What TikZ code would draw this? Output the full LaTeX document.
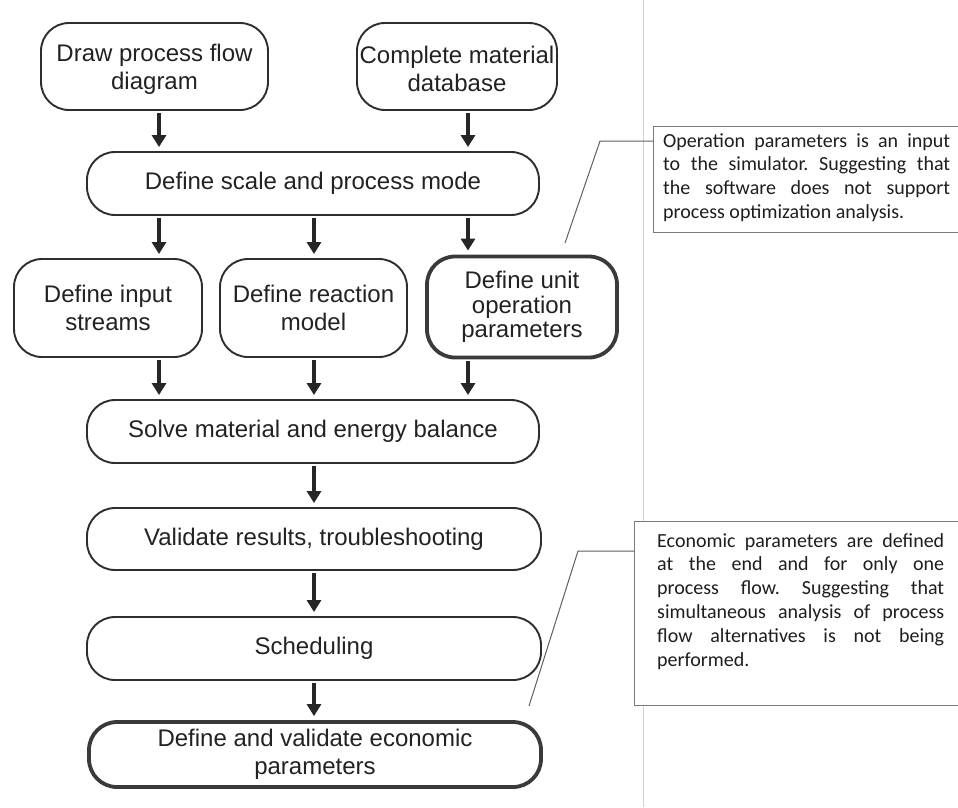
\documentclass[tikz,border=0pt]{standalone}
\usepackage{fontspec}
\setmainfont{Liberation Sans}
\newfontfamily\notefont{Carlito}
\usetikzlibrary{arrows.meta}
\definecolor{boxline}{HTML}{2E2E2E}
\definecolor{keyline}{HTML}{3A3A3A}
\definecolor{boxtext}{HTML}{222222}
\definecolor{arrowc}{HTML}{262626}
\definecolor{noteline}{HTML}{7A7A7A}
\definecolor{notec}{HTML}{1E1E1E}
\definecolor{leadc}{HTML}{5E5E5E}
\definecolor{divc}{HTML}{D2D2D2}
\begin{document}
\frenchspacing
\begin{tikzpicture}[x=1pt,y=-1pt,
  stepbox/.style={draw=boxline, line width=1.9pt, rounded corners=28pt, fill=white,
    align=center, text=boxtext, font=\fontsize{24}{28}\selectfont, inner sep=0pt},
  keybox/.style={stepbox, line width=3.8pt, draw=keyline},
  flow/.style={draw=arrowc, line width=3.4pt, -{Triangle[width=14pt,length=12pt]},
    shorten <=2pt, shorten >=4pt},
  notebox/.style={draw=noteline, line width=1pt, fill=white, inner sep=0pt, anchor=north west},
  notetext/.style={text width=287pt, align=justify, inner sep=0pt, anchor=north west,
    font=\notefont\fontsize{20}{23.8}\selectfont, text=notec},
  leader/.style={draw=leadc, line width=1pt},
  divider/.style={draw=divc, line width=1pt}]

\useasboundingbox (0,0) rectangle (958,807);
\clip (0,0) rectangle (958,807);

% page divider between the chart and the notes
\draw[divider] (643,0) -- (643,807);

% arrow columns
\coordinate (c1) at (159,0);
\coordinate (c2) at (314,0);
\coordinate (c3) at (468,0);

% process steps
\node[stepbox, minimum width=227pt, minimum height=87pt] (b1) at (154.5,66.5) {\rule{0pt}{22pt}Draw process flow\\diagram};
\node[stepbox, minimum width=200pt, minimum height=87pt] (b2) at (457,66.5) {\rule{0pt}{22pt}Complete material\\database};
\node[stepbox, minimum width=452pt, minimum height=63pt] (b3) at (313,183.5) {Define scale and process mode};
\node[stepbox, minimum width=188pt, minimum height=98pt] (b4) at (108,308) {Define input\\streams};
\node[stepbox, minimum width=187pt, minimum height=98pt] (b5) at (313.5,308) {Define reaction\\model};
\node[keybox, minimum width=190pt, minimum height=101pt, font=\fontsize{24}{24.5}\selectfont] (b6) at (522,307) {Define unit\\operation\\parameters};
\node[stepbox, minimum width=452pt, minimum height=63pt] (b7) at (313,431.5) {Solve material and energy balance};
\node[stepbox, minimum width=454pt, minimum height=62pt] (b8) at (314,539) {Validate results, troubleshooting};
\node[stepbox, minimum width=454pt, minimum height=63pt] (b9) at (314,648.5) {Scheduling};
\node[keybox, minimum width=452pt, minimum height=65pt] (b10) at (315,754.5) {Define and validate economic\\parameters};

% flow arrows
\draw[flow] (b1.south -| c1) -- (b3.north -| c1);
\draw[flow] (b2.south -| c3) -- (b3.north -| c3);
\draw[flow] (b3.south -| c1) -- (b4.north -| c1);
\draw[flow] (b3.south -| c2) -- (b5.north -| c2);
\draw[flow] (b3.south -| c3) -- (b6.north -| c3);
\draw[flow] (b4.south -| c1) -- (b7.north -| c1);
\draw[flow] (b5.south -| c2) -- (b7.north -| c2);
\draw[flow] (b6.south -| c3) -- (b7.north -| c3);
\draw[flow] (b7.south -| c2) -- (b8.north -| c2);
\draw[flow] (b8.south -| c2) -- (b9.north -| c2);
\draw[flow] (b9.south -| c2) -- (b10.north -| c2);

% notes
\node[notebox, minimum width=310pt, minimum height=106pt] (op) at (653,126) {};
\node[notetext] (optext) at (663,133) {Operation parameters is an input\linebreak
to the simulator. Suggesting that\linebreak
the software does not support\linebreak
process optimization analysis.};

\node[notebox, minimum width=340pt, minimum height=184pt] (econ) at (634,521) {};
\node[notetext] (econtext) at (657,533) {Economic parameters are defined\linebreak
at the end and for only one\linebreak
process flow. Suggesting that\linebreak
simultaneous analysis of process\linebreak
flow alternatives is not being\linebreak
performed.};

% leader lines from the notes
\coordinate (l1a) at (565,243);
\coordinate (l1b) at (600,141);
\draw[leader] (l1a) -- (l1b) -- (l1b -| op.west);
\coordinate (l2a) at (529,706);
\coordinate (l2b) at (578,551);
\draw[leader] (l2a) -- (l2b) -- (l2b -| econ.west);
\end{tikzpicture}
\end{document}
